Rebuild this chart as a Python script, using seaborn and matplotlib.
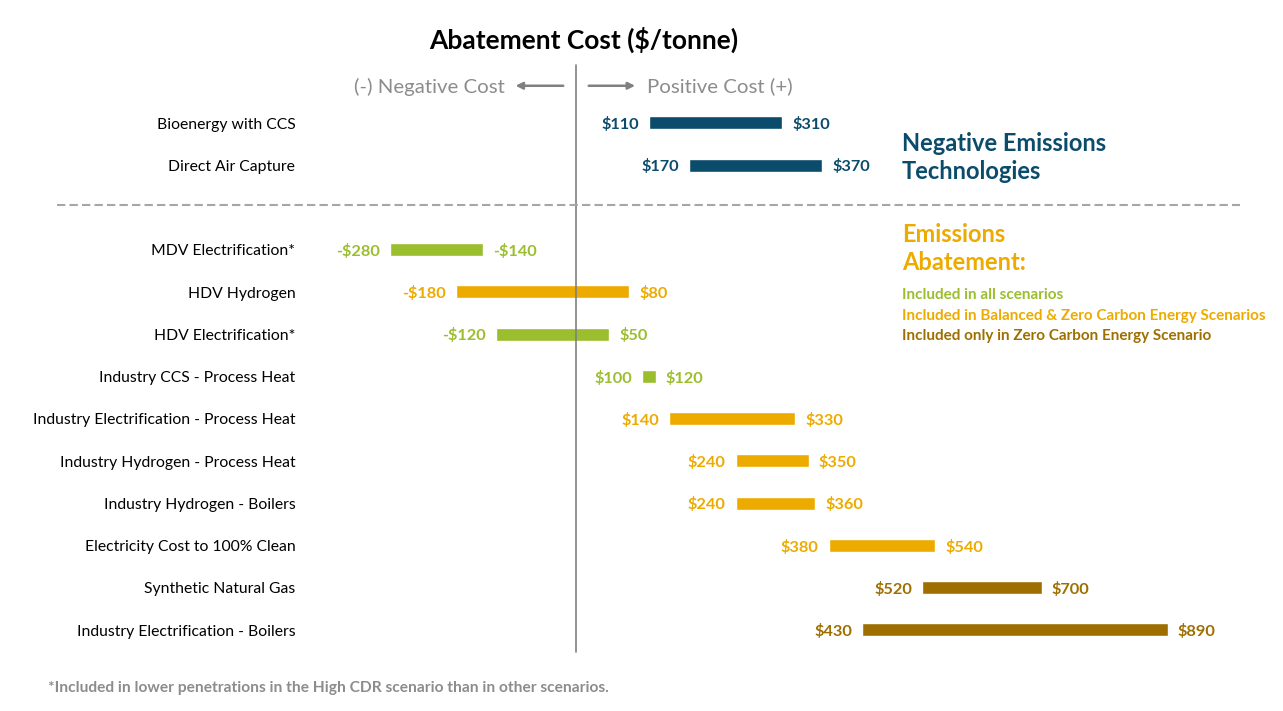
import seaborn as sns
from matplotlib import pyplot as plt

# rows, top to bottom (row 2 is the dashed divider)
labels = ["Bioenergy with CCS", "Direct Air Capture",
          "MDV Electrification*", "HDV Hydrogen", "HDV Electrification*",
          "Industry CCS - Process Heat", "Industry Electrification - Process Heat",
          "Industry Hydrogen - Process Heat", "Industry Hydrogen - Boilers",
          "Electricity Cost to 100% Clean", "Synthetic Natural Gas",
          "Industry Electrification - Boilers"]
rows = [0, 1, 3, 4, 5, 6, 7, 8, 9, 10, 11, 12]
low = [110, 170, -280, -180, -120, 100, 140, 240, 240, 380, 520, 430]
high = [310, 370, -140, 80, 50, 120, 330, 350, 360, 540, 700, 890]
group = ["net", "net", "all", "bal", "all", "all", "bal", "bal", "bal", "bal", "zero", "zero"]

colors = {"net": "#0B4B6B", "all": "#9BBE2E", "bal": "#EDAB00", "zero": "#9E6F00"}
gray = "#808080"

sns.set_theme(style="white")
plt.rcParams["font.family"] = ["Lato", "DejaVu Sans"]

fig = plt.figure(figsize=(12.83, 7.11), dpi=100)
ax = fig.add_axes([0, 0, 1, 1])
ax.set_xlim(-866, 1063)
ax.set_ylim(13.92, -2.91)
ax.axis("off")

for r, lo, hi, g, name in zip(rows, low, high, group, labels):
    c = colors[g]
    ax.barh(r, hi - lo, left=lo, height=0.31, color=c)
    ax.text(-422, r + 0.04, name, ha="right", va="center", fontsize=11.3, color="black")
    lo_txt = ("-$%d" % -lo) if lo < 0 else ("$%d" % lo)
    hi_txt = ("-$%d" % -hi) if hi < 0 else ("$%d" % hi)
    ax.text(lo - 15, r + 0.04, lo_txt, ha="right", va="center", fontsize=11.8,
            fontweight="bold", color=c)
    ax.text(hi + 15, r + 0.04, hi_txt, ha="left", va="center", fontsize=11.8,
            fontweight="bold", color=c)

# zero line and divider
ax.plot([0, 0], [-1.37, 12.52], color=gray, lw=1.2)
ax.plot([-780, 999], [1.95, 1.95], color="#A6A6A6", lw=1.5, ls=(0, (4, 2)))

ax.text(12, -1.97, "Abatement Cost ($/tonne)", ha="center", va="center",
        fontsize=19, fontweight="bold", color="black")

# direction arrows
ax.annotate("", xy=(-95, -0.88), xytext=(-15, -0.88),
            arrowprops=dict(arrowstyle="-|>", color=gray, lw=1.8, mutation_scale=10))
ax.annotate("", xy=(93, -0.88), xytext=(15, -0.88),
            arrowprops=dict(arrowstyle="-|>", color=gray, lw=1.8, mutation_scale=10))
ax.text(-107, -0.86, "(-) Negative Cost", ha="right", va="center", fontsize=14.7, color="#8C8C8C")
ax.text(107, -0.86, "Positive Cost (+)", ha="left", va="center", fontsize=14.7, color="#8C8C8C")

# legend block
ax.text(490, 0.82, "Negative Emissions\nTechnologies", ha="left", va="center",
        fontsize=17, fontweight="bold", color=colors["net"], linespacing=1.3)
ax.text(490, 2.97, "Emissions\nAbatement:", ha="left", va="center",
        fontsize=17, fontweight="bold", color=colors["bal"], linespacing=1.3)
legend_lines = ["Included in all scenarios",
                "Included in Balanced & Zero Carbon Energy Scenarios",
                "Included only in Zero Carbon Energy Scenario"]
for i, (txt, g) in enumerate(zip(legend_lines, ["all", "bal", "zero"])):
    ax.text(490, 4.07 + i * 0.49, txt, ha="left", va="center", fontsize=11,
            fontweight="bold", color=colors[g])

ax.text(-794, 13.37, "*Included in lower penetrations in the High CDR scenario than in other scenarios.",
        ha="left", va="center", fontsize=11.2, fontweight="bold", color="#8C8C8C")

fig.savefig("out.png", dpi=100)
